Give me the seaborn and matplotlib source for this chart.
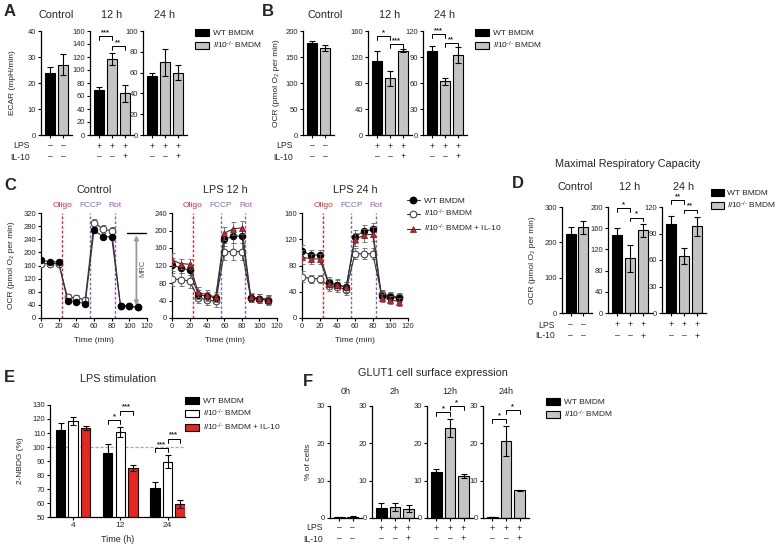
import numpy as np
import pandas as pd
import matplotlib
matplotlib.use('Agg')
import matplotlib.pyplot as plt
import seaborn as sns
from matplotlib.patches import Patch
from matplotlib.lines import Line2D

sns.set_theme(style='ticks', context='paper')
plt.rcParams['font.family'] = ['Liberation Sans', 'DejaVu Sans']
plt.rcParams['mathtext.fontset'] = 'custom'
plt.rcParams['mathtext.rm'] = 'Liberation Sans'
plt.rcParams['mathtext.it'] = 'Liberation Sans:italic'
plt.rcParams['mathtext.bf'] = 'Liberation Sans:bold'
plt.rcParams['axes.linewidth'] = 0.9
plt.rcParams['axes.edgecolor'] = 'black'

# ---------------- data ----------------
KO = r'$\mathit{Il10}^{\text{-/-}}$'
LPS_CTRL = ['–', '–']
IL10_CTRL = ['–', '–']
LPS_TRT = ['+', '+', '+']
IL10_TRT = ['–', '–', '+']

# Panel A: ECAR
ecar_ctrl = [24, 27];        ecar_ctrl_err = [2.3, 4]
ecar_12h = [69, 117, 64];    ecar_12h_err = [5, 9.5, 13]
ecar_24h = [57, 70, 60];     ecar_24h_err = [3, 13, 7]

# Panel B: OCR
ocr_ctrl = [176, 168];       ocr_ctrl_err = [4, 6]
ocr_12h = [114, 87, 130];    ocr_12h_err = [15, 11, 3]
ocr_24h = [97, 62, 92];      ocr_24h_err = [6, 4, 9]

# Panel C: OCR time course
time_min = [0, 10, 20, 30, 40, 50, 60, 70, 80, 90, 100, 110]
c_ctrl_wt = [176, 171, 171, 53, 50, 43, 268, 248, 247, 36, 36, 33]
c_ctrl_wt_err = [6, 5, 5, 8, 6, 6, 8, 6, 6, 4, 4, 4]
c_ctrl_ko = [166, 166, 166, 63, 61, 56, 290, 272, 265, 38, 36, 33]
c_ctrl_ko_err = [8, 6, 6, 10, 8, 8, 12, 12, 12, 5, 5, 5]

c_12_wt = [122, 114, 110, 53, 50, 46, 180, 187, 187, 46, 44, 40]
c_12_wt_err = [15, 12, 12, 10, 10, 10, 15, 15, 15, 10, 10, 10]
c_12_ko = [89, 88, 84, 46, 42, 38, 152, 152, 152, 46, 44, 42]
c_12_ko_err = [15, 15, 15, 12, 12, 12, 20, 20, 20, 10, 10, 10]
c_12_ko10 = [133, 124, 123, 59, 53, 48, 194, 204, 206, 47, 46, 42]
c_12_ko10_err = [15, 12, 12, 12, 12, 12, 15, 15, 15, 10, 10, 10]

c_24_wt = [102, 96, 96, 55, 51, 47, 124, 132, 135, 33, 32, 30]
c_24_wt_err = [10, 8, 8, 8, 8, 8, 10, 10, 10, 6, 6, 6]
c_24_ko = [63, 60, 60, 49, 47, 43, 98, 98, 98, 37, 33, 32]
c_24_ko_err = [8, 6, 6, 8, 8, 8, 8, 8, 8, 6, 6, 6]
c_24_ko10 = [93, 90, 90, 52, 50, 47, 120, 126, 128, 31, 28, 25]
c_24_ko10_err = [10, 8, 8, 8, 8, 8, 10, 10, 10, 6, 6, 6]

injections = ['Oligo', 'FCCP', 'Rot']
injection_times = [24, 56, 84]

# Panel D: maximal respiratory capacity
mrc_ctrl = [225, 242];       mrc_ctrl_err = [17, 17]
mrc_12h = [148, 103, 156];   mrc_12h_err = [12, 25, 12]
mrc_24h = [101, 65, 98];     mrc_24h_err = [9, 9, 11]

# Panel E: 2-NBDG
nbdg_times = ['4', '12', '24']
nbdg_wt = [112, 96, 71];         nbdg_wt_err = [5, 6, 4]
nbdg_ko = [118.5, 111, 89.5];    nbdg_ko_err = [3, 3.5, 4.5]
nbdg_ko10 = [113.3, 85, 59.5];   nbdg_ko10_err = [1.5, 2, 3]

# Panel F: GLUT1
glut_0h = [0.2, 0.4];            glut_0h_err = [0.1, 0.15]
glut_2h = [2.7, 3.0, 2.5];       glut_2h_err = [1.4, 1.0, 1.0]
glut_12h = [12.4, 24, 11.2];     glut_12h_err = [0.8, 2.4, 0.5]
glut_24h = [0.3, 20.7, 7.4];     glut_24h_err = [0.1, 4, 0.1]

# ---------------- styling ----------------
BLACK = '#000000'
GRAY = '#c4c4c4'
RED = '#e8261f'
DRED = '#c0272d'
C_OLIGO = '#e8262a'
C_FCCP = '#6f6fc4'
C_ROT = '#9b59b6'
TICK_FS = 5.5
TITLE_FS = 7.8
LEG_FS = 6.0
LAB_FS = 6

W, H = 780, 547
fig = plt.figure(figsize=(W / 100, H / 100), dpi=100)


def add_ax(x0, y0, x1, y1):
    return fig.add_axes([x0 / W, 1 - y1 / H, (x1 - x0) / W, (y1 - y0) / H])


def T(x, y, s, **kw):
    kw.setdefault('ha', 'center')
    kw.setdefault('va', 'center')
    return fig.text(x / W, 1 - y / H, s, **kw)


def style_ax(ax):
    sns.despine(ax=ax)
    ax.tick_params(length=2.5, width=0.8, labelsize=TICK_FS, pad=1, color='black')
    ax.set_xlabel('')
    ax.set_ylabel('')


def bar_panel(rect, vals, errs, colors, ylim, yticks):
    ax = add_ax(*rect)
    n = len(vals)
    cats = [str(i) for i in range(n)]
    df = pd.DataFrame({'c': cats, 'v': vals})
    sns.barplot(data=df, x='c', y='v', hue='c', palette=dict(zip(cats, colors)),
                legend=False, ax=ax, width=0.78, edgecolor='black', linewidth=0.8,
                saturation=1)
    ax.errorbar(range(n), vals, yerr=errs, fmt='none', ecolor='black',
                elinewidth=0.8, capsize=2.2, capthick=0.8, zorder=5)
    ax.set_xlim(-0.7, n - 0.3)
    ax.set_ylim(*ylim)
    ax.set_yticks(yticks)
    ax.set_xticks(range(n))
    ax.set_xticklabels([])
    style_ax(ax)
    return ax


def sign_rows(ax, lps, il10, d1, d2):
    for i, (a, b) in enumerate(zip(lps, il10)):
        ax.annotate(a, (i, 0), xycoords=('data', 'axes fraction'), xytext=(0, -d1),
                    textcoords='offset pixels', ha='center', va='center', fontsize=6.2)
        ax.annotate(b, (i, 0), xycoords=('data', 'axes fraction'), xytext=(0, -d2),
                    textcoords='offset pixels', ha='center', va='center', fontsize=6.2)


def bracket(ax, x1, x2, y, text):
    lo, hi = ax.get_ylim()
    drop = (hi - lo) * 0.035
    ax.plot([x1, x1, x2, x2], [y - drop, y, y, y - drop], color='black', lw=0.7,
            clip_on=False, zorder=6)
    ax.annotate(text, ((x1 + x2) / 2, y), xytext=(0, 0), textcoords='offset pixels',
                ha='center', va='bottom', fontsize=5.5, fontweight='bold', annotation_clip=False)


def sq_legend(x, y, labels, colors, hl=1.7):
    handles = [Patch(facecolor=c, edgecolor='black', linewidth=0.8) for c in colors]
    fig.legend(handles, labels, loc='upper left', bbox_to_anchor=(x / W, 1 - y / H),
               frameon=False, fontsize=LEG_FS, handlelength=hl, handleheight=0.9,
               handletextpad=0.45, labelspacing=0.3, borderpad=0, borderaxespad=0)


def ylab(x, y, s):
    T(x, y, s, rotation=90, fontsize=LAB_FS)


# ---------------- Panel A ----------------
T(4, 12, 'A', ha='left', fontsize=12, fontweight='bold')
a1 = bar_panel((41, 31, 72, 135), ecar_ctrl, ecar_ctrl_err, [BLACK, GRAY], (0, 40), [0, 10, 20, 30, 40])
a2 = bar_panel((90, 31, 134, 135), ecar_12h, ecar_12h_err, [BLACK, GRAY, GRAY], (0, 160), range(0, 161, 20))
a3 = bar_panel((143, 31, 187, 135), ecar_24h, ecar_24h_err, [BLACK, GRAY, GRAY], (0, 100), range(0, 101, 20))
bracket(a2, 0, 1, 152, '***')
bracket(a2, 1, 2, 137, '**')
for ax, l, i in [(a1, LPS_CTRL, IL10_CTRL), (a2, LPS_TRT, IL10_TRT), (a3, LPS_TRT, IL10_TRT)]:
    sign_rows(ax, l, i, 11, 22)
T(30, 146, 'LPS', ha='right', fontsize=6.2)
T(30, 157, 'IL-10', ha='right', fontsize=6.2)
T(56, 15, 'Control', fontsize=TITLE_FS)
T(112, 15, '12 h', fontsize=TITLE_FS)
T(165, 15, '24 h', fontsize=TITLE_FS)
ylab(13, 83, 'ECAR (mpH/min)')
sq_legend(195, 29, ['WT BMDM', KO + ' BMDM'], [BLACK, GRAY])

# ---------------- Panel B ----------------
T(262, 12, 'B', ha='left', fontsize=12, fontweight='bold')
b1 = bar_panel((303, 31, 334, 135), ocr_ctrl, ocr_ctrl_err, [BLACK, GRAY], (0, 200), range(0, 201, 50))
b2 = bar_panel((368, 31, 412, 135), ocr_12h, ocr_12h_err, [BLACK, GRAY, GRAY], (0, 160), range(0, 161, 40))
b3 = bar_panel((423, 31, 467, 135), ocr_24h, ocr_24h_err, [BLACK, GRAY, GRAY], (0, 120), range(0, 121, 30))
bracket(b2, 0, 1, 152, '*')
bracket(b2, 1, 2, 140, '***')
bracket(b3, 0, 1, 116, '***')
bracket(b3, 1, 2, 106, '**')
for ax, l, i in [(b1, LPS_CTRL, IL10_CTRL), (b2, LPS_TRT, IL10_TRT), (b3, LPS_TRT, IL10_TRT)]:
    sign_rows(ax, l, i, 11, 22)
T(293, 146, 'LPS', ha='right', fontsize=6.2)
T(293, 157, 'IL-10', ha='right', fontsize=6.2)
T(325, 15, 'Control', fontsize=TITLE_FS)
T(390, 15, '12 h', fontsize=TITLE_FS)
T(445, 15, '24 h', fontsize=TITLE_FS)
ylab(277, 83, 'OCR (pmol O₂ per min)')
sq_legend(475, 29, ['WT BMDM', KO + ' BMDM'], [BLACK, GRAY])

# ---------------- Panel C ----------------
T(4, 186, 'C', ha='left', fontsize=12, fontweight='bold')
STY_WT = dict(marker='o', markersize=4.6, markerfacecolor='black', markeredgecolor='black')
STY_KO = dict(marker='o', markersize=4.8, markerfacecolor='white', markeredgecolor='#444444', markeredgewidth=0.8)
STY_K10 = dict(marker='^', markersize=4.6, markerfacecolor=DRED, markeredgecolor='#7a1010', markeredgewidth=0.5)


def line_panel(rect, series, ylim, yticks, title, tx):
    ax = add_ax(*rect)
    for vals, errs, sty, z in series:
        df = pd.DataFrame({'t': time_min, 'v': vals})
        ax.errorbar(time_min, vals, yerr=errs, fmt='none', ecolor='#666666',
                    elinewidth=0.6, capsize=1.8, capthick=0.6, zorder=z - 1)
        sns.lineplot(data=df, x='t', y='v', ax=ax, color='#333333', lw=0.8,
                     zorder=z, **sty)
    for name, t, c in zip(injections, injection_times, [C_OLIGO, C_FCCP, C_ROT]):
        ax.axvline(t, color=c, ls=(0, (2, 1.4)), lw=1.0, zorder=0)
        ax.text(t, 1.075, name, transform=ax.get_xaxis_transform(), color=c,
                ha='center', va='center', fontsize=6)
    ax.set_xlim(0, 120)
    ax.set_xticks(range(0, 121, 20))
    ax.set_ylim(*ylim)
    ax.set_yticks(yticks)
    style_ax(ax)
    T(tx, 190, title, fontsize=TITLE_FS)
    T((rect[0] + rect[2]) / 2, 341, 'Time (min)', fontsize=6)
    return ax


c1 = line_panel((41, 213, 147, 318),
                [(c_ctrl_ko, c_ctrl_ko_err, STY_KO, 4), (c_ctrl_wt, c_ctrl_wt_err, STY_WT, 6)],
                (0, 320), range(0, 321, 40), 'Control', 94)
c2 = line_panel((172, 213, 277, 318),
                [(c_12_ko, c_12_ko_err, STY_KO, 4), (c_12_wt, c_12_wt_err, STY_WT, 6),
                 (c_12_ko10, c_12_ko10_err, STY_K10, 8)],
                (0, 240), range(0, 241, 40), 'LPS 12 h', 225)
c3 = line_panel((302, 213, 408, 318),
                [(c_24_ko, c_24_ko_err, STY_KO, 4), (c_24_wt, c_24_wt_err, STY_WT, 6),
                 (c_24_ko10, c_24_ko10_err, STY_K10, 8)],
                (0, 160), range(0, 161, 40), 'LPS 24 h', 355)
# MRC annotation
c1.plot([97, 119], [258, 258], color='black', lw=1.0, clip_on=False)
c1.annotate('', xy=(108, 38), xytext=(108, 252),
            arrowprops=dict(arrowstyle='<|-|>', color='#9a9a9a', lw=1.3,
                            mutation_scale=6, shrinkA=0, shrinkB=0))
c1.text(115.5, 150, 'MRC', rotation=90, ha='center', va='center', fontsize=5.5, color='#555555')
ylab(12, 265, 'OCR (pmol O₂ per min)')
c_handles = [Line2D([0], [0], color='#333333', lw=0.8, **STY_WT),
             Line2D([0], [0], color='#333333', lw=0.8, **STY_KO),
             Line2D([0], [0], color='#333333', lw=0.8, **STY_K10)]
fig.legend(c_handles, ['WT BMDM', KO + ' BMDM', KO + ' BMDM + IL-10'], loc='upper left',
           bbox_to_anchor=(407 / W, 1 - 197 / H), frameon=False, fontsize=LEG_FS,
           handlelength=1.5, handletextpad=0.5, labelspacing=0.4, borderpad=0, borderaxespad=0)

# ---------------- Panel D ----------------
T(512, 183, 'D', ha='left', fontsize=12, fontweight='bold')
T(628, 164, 'Maximal Respiratory Capacity', fontsize=TITLE_FS)
d1 = bar_panel((562, 207, 592, 313), mrc_ctrl, mrc_ctrl_err, [BLACK, GRAY], (0, 300), range(0, 301, 100))
d2 = bar_panel((608, 207, 652, 313), mrc_12h, mrc_12h_err, [BLACK, GRAY, GRAY], (0, 200), range(0, 201, 40))
d3 = bar_panel((662, 207, 706, 313), mrc_24h, mrc_24h_err, [BLACK, GRAY, GRAY], (0, 120), range(0, 121, 30))
bracket(d2, 0, 1, 198, '*')
bracket(d2, 1, 2, 180, '*')
bracket(d3, 0, 1, 128, '**')
bracket(d3, 1, 2, 117, '**')
for ax, l, i in [(d1, LPS_CTRL, IL10_CTRL), (d2, LPS_TRT, IL10_TRT), (d3, LPS_TRT, IL10_TRT)]:
    sign_rows(ax, l, i, 12, 23)
T(555, 325, 'LPS', ha='right', fontsize=6.2)
T(555, 336, 'IL-10', ha='right', fontsize=6.2)
T(575, 187, 'Control', fontsize=TITLE_FS)
T(630, 187, '12 h', fontsize=TITLE_FS)
T(684, 187, '24 h', fontsize=TITLE_FS)
ylab(533, 260, 'OCR (pmol O₂ per min)')
sq_legend(711, 189, ['WT BMDM', KO + ' BMDM'], [BLACK, GRAY], hl=1.5)

# ---------------- Panel E ----------------
T(4, 377, 'E', ha='left', fontsize=12, fontweight='bold')
T(118, 379, 'LPS stimulation', fontsize=TITLE_FS)
eax = add_ax(50, 405, 185, 517)
groups = ['WT', 'KO', 'KO10']
edf = pd.DataFrame({
    'time': nbdg_times * 3,
    'group': [g for g in groups for _ in nbdg_times],
    'v': nbdg_wt + nbdg_ko + nbdg_ko10,
})
sns.barplot(data=edf, x='time', y='v', hue='group', order=nbdg_times, hue_order=groups,
            palette=dict(zip(groups, [BLACK, 'white', RED])), legend=False, ax=eax,
            width=0.8, gap=0.25, edgecolor='black', linewidth=0.8, saturation=1)
slot = 0.8 / 3
for j, (vals, errs) in enumerate([(nbdg_wt, nbdg_wt_err), (nbdg_ko, nbdg_ko_err),
                                  (nbdg_ko10, nbdg_ko10_err)]):
    xs = [i + (j - 1) * slot for i in range(3)]
    eax.errorbar(xs, vals, yerr=errs, fmt='none', ecolor='black', elinewidth=0.8,
                 capsize=2.2, capthick=0.8, zorder=5)
eax.axhline(100, color='#aaaaaa', ls=(0, (2.5, 1.5)), lw=0.9, zorder=0, clip_on=False)
eax.set_xlim(-0.49, 2.37)
eax.set_ylim(50, 130)
eax.set_yticks(range(50, 131, 10))
style_ax(eax)
eax.tick_params(axis='x', labelsize=6)
bracket(eax, 1 - slot, 1, 119, '*')
bracket(eax, 1, 1 + slot, 126, '***')
bracket(eax, 2 - slot, 2, 99, '***')
bracket(eax, 2, 2 + slot, 106, '***')
ylab(20, 461, '2-NBDG (%)')
T(118, 540, 'Time (h)', fontsize=6.5)
sq_legend(185, 397, ['WT BMDM', KO + ' BMDM', KO + ' BMDM + IL-10'], [BLACK, 'white', RED])

# ---------------- Panel F ----------------
T(303, 382, 'F', ha='left', fontsize=12, fontweight='bold')
T(433, 373, 'GLUT1 cell surface expression', fontsize=TITLE_FS)
f1 = bar_panel((330, 406, 362, 518), glut_0h, glut_0h_err, [BLACK, GRAY], (0, 30), [0, 10, 20, 30])
f2 = bar_panel((372, 406, 418, 518), glut_2h, glut_2h_err, [BLACK, GRAY, GRAY], (0, 30), [0, 10, 20, 30])
f3 = bar_panel((427, 406, 473, 518), glut_12h, glut_12h_err, [BLACK, GRAY, GRAY], (0, 30), [0, 10, 20, 30])
f4 = bar_panel((483, 406, 529, 518), glut_24h, glut_24h_err, [BLACK, GRAY, GRAY], (0, 30), [0, 10, 20, 30])
bracket(f3, 0, 1, 28.3, '*')
bracket(f3, 1, 2, 30.0, '*')
bracket(f4, 0, 1, 26.5, '*')
bracket(f4, 1, 2, 28.8, '*')
for ax, l, i in [(f1, LPS_CTRL, IL10_CTRL), (f2, LPS_TRT, IL10_TRT),
                 (f3, LPS_TRT, IL10_TRT), (f4, LPS_TRT, IL10_TRT)]:
    sign_rows(ax, l, i, 10, 21)
T(323, 528, 'LPS', ha='right', fontsize=6.2)
T(323, 539, 'IL-10', ha='right', fontsize=6.2)
for x, s in [(346, '0h'), (395, '2h'), (450, '12h'), (506, '24h')]:
    T(x, 392, s, fontsize=6.5)
ylab(308, 462, '% of cells')
sq_legend(546, 398, ['WT BMDM', KO + ' BMDM'], [BLACK, GRAY])

fig.savefig('out.png', dpi=100, facecolor='white')
